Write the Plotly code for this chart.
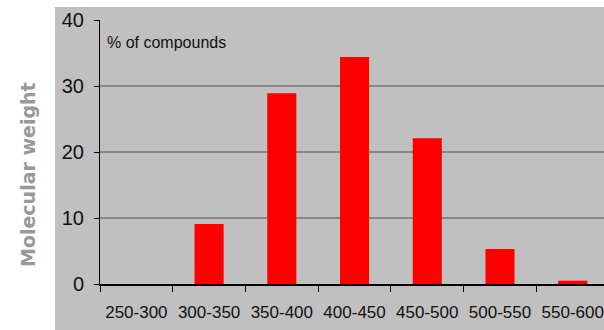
import plotly.graph_objects as go

# Distribution of compounds by molecular weight band
mw_bands = ["250-300", "300-350", "350-400", "400-450", "450-500", "500-550", "550-600"]
pct_compounds = [0, 9.1, 28.9, 34.4, 22.1, 5.3, 0.5]
y_ticks = [0, 10, 20, 30, 40]

PANEL = "#c0c0c0"
SANS = "Liberation Sans, Arial, sans-serif"

fig = go.Figure(
    go.Bar(
        x=mw_bands,
        y=pct_compounds,
        width=0.4,
        marker=dict(color="#ff0000", line=dict(width=0)),
    )
)

fig.update_layout(
    width=604,
    height=330,
    margin=dict(l=100, r=0, t=20, b=46, autoexpand=False),
    paper_bgcolor="white",
    plot_bgcolor=PANEL,
    showlegend=False,
    shapes=[
        # grey panel behind the whole chart, leaving a white strip top and left
        dict(type="rect", xref="paper", yref="paper",
             x0=-45 / 504, x1=1.0, y0=-46 / 264, y1=277 / 264,
             fillcolor=PANEL, line=dict(width=0), layer="below"),
    ],
    annotations=[
        dict(text="% of compounds", xref="paper", yref="paper",
             x=5 / 504, y=(284 - 42) / 264, xanchor="left", yanchor="middle",
             showarrow=False,
             font=dict(family=SANS, size=16, color="#111111")),
        dict(text="<b>Molecular weight</b>", xref="paper", yref="paper",
             x=(28 - 100) / 504, y=(284 - 175) / 264, xanchor="center", yanchor="middle",
             textangle=-90, showarrow=False,
             font=dict(family="DejaVu Sans, Verdana, sans-serif", size=19, color="#999999")),
    ],
)

fig.update_xaxes(
    type="category",
    range=[-0.5, 6.43],
    tickson="boundaries",
    ticks="outside",
    ticklen=6,
    tickcolor="#000000",
    tickwidth=1,
    tickangle=0,
    automargin=False,
    showline=True,
    linecolor="#000000",
    linewidth=2,
    showgrid=False,
    tickfont=dict(family=SANS, size=17, color="#111111"),
    ticklabelstandoff=12,
)

fig.update_yaxes(
    range=[0, 40],
    tickvals=y_ticks,
    ticks="outside",
    ticklen=5,
    tickcolor="#000000",
    tickwidth=1,
    automargin=False,
    showline=True,
    linecolor="#000000",
    linewidth=1,
    showgrid=True,
    gridcolor="#888888",
    gridwidth=1.5,
    zeroline=False,
    tickfont=dict(family=SANS, size=20, color="#111111"),
    ticklabelstandoff=6,
)

fig.write_html("out.html")
